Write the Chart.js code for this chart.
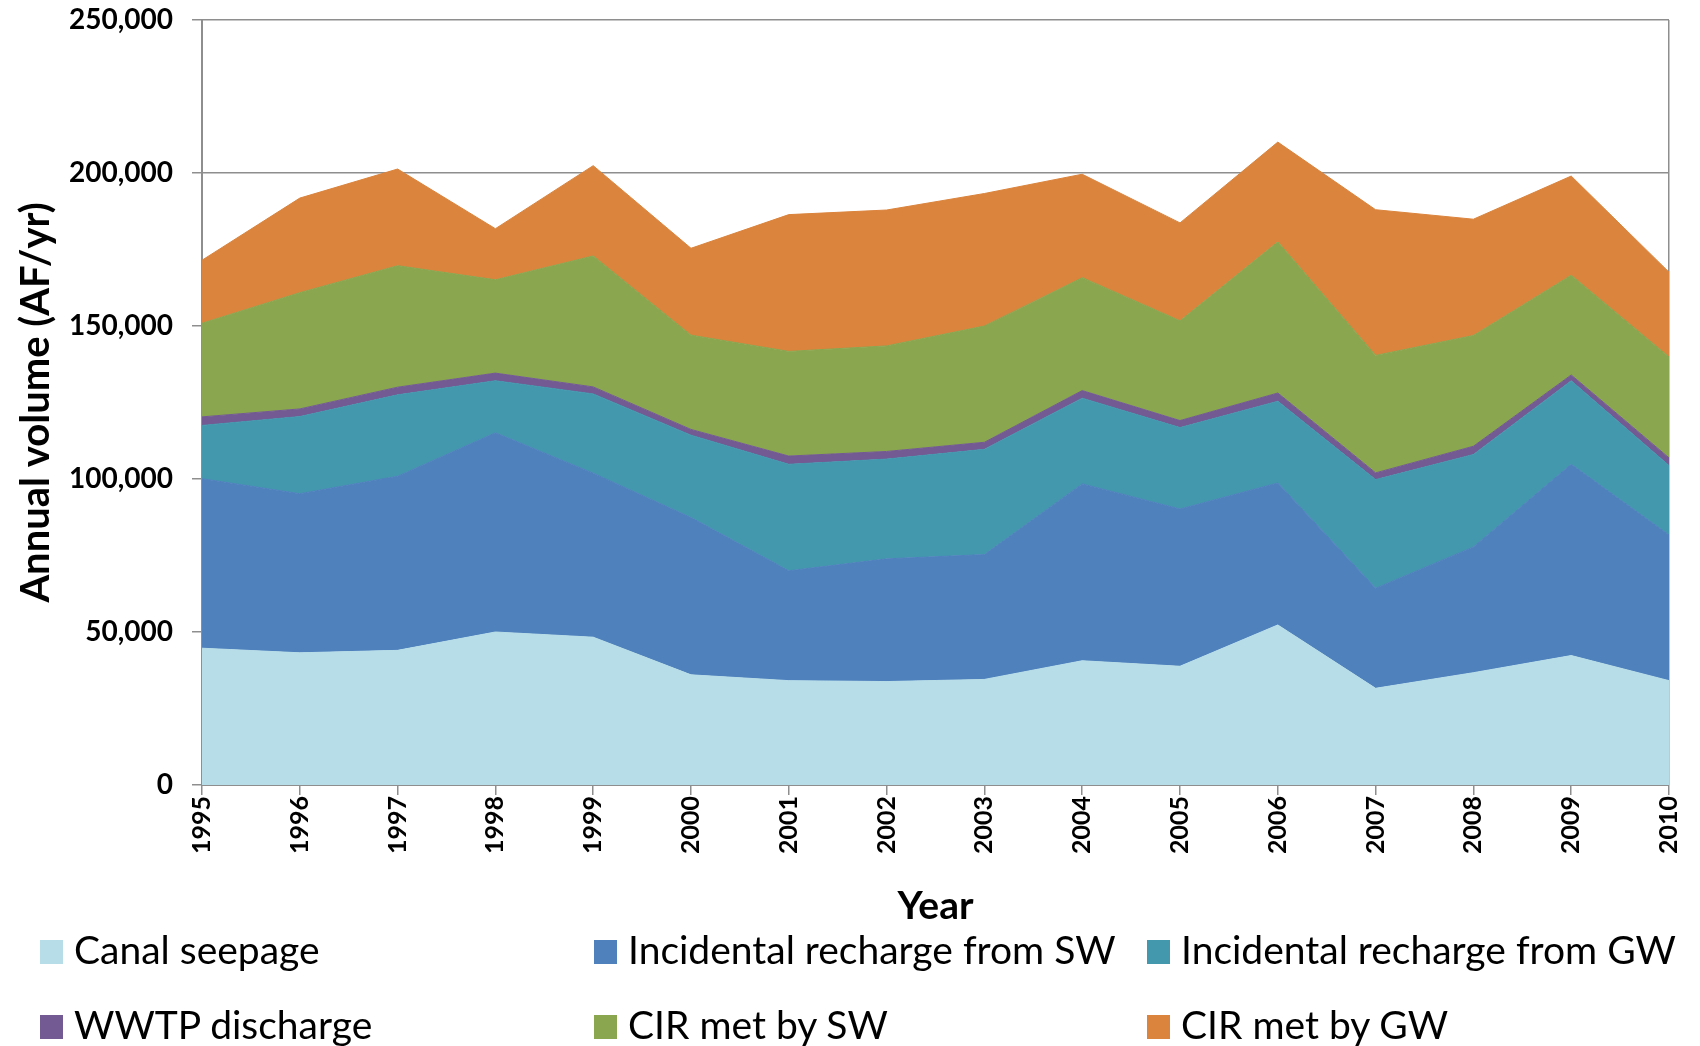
<!DOCTYPE html>
<html>
<head>
<meta charset="utf-8">
<script src="https://cdn.jsdelivr.net/npm/chart.js@4.4.1/dist/chart.umd.min.js"></script>
<style>
    html, body { margin: 0; padding: 0; background: #fff; }
    #wrap { position: relative; width: 1700px; height: 1046px; font-family: Lato, sans-serif; }
    #legend .item { position: absolute; font-size: 39px; color: #000; line-height: 1; white-space: nowrap; }
    #legend .box { position: absolute; width: 23px; height: 24px; }
</style>
</head>
<body>
<div id="wrap">
    <canvas id="areaChart" width="1700" height="1046"></canvas>
    <div id="legend"></div>
</div>
<script>
var years = ["1995", "1996", "1997", "1998", "1999", "2000", "2001", "2002",
    "2003", "2004", "2005", "2006", "2007", "2008", "2009", "2010"];

var canalSeepage = [44700, 43200, 44000, 50000, 48300, 36000, 34100, 33800,
    34500, 40600, 38800, 52300, 31600, 36700, 42300, 34100];
var incidentalSW = [55400, 52000, 56900, 65100, 53600, 51400, 35900, 40100,
    40800, 57800, 51400, 46400, 32700, 41100, 62500, 47600];
var incidentalGW = [17400, 25200, 26600, 17000, 25900, 26900, 34800, 32600,
    34400, 28000, 26600, 26700, 35500, 30200, 27300, 22700];
var wwtpDischarge = [2800, 2500, 2500, 2500, 2300, 1900, 2700, 2500,
    2300, 2500, 2300, 2700, 2200, 2700, 1900, 2500];
var cirSW = [30600, 38000, 39700, 30500, 42800, 30800, 34200, 34500,
    38000, 36900, 32600, 49400, 38400, 36200, 32600, 33000];
var cirGW = [20600, 30900, 31600, 16700, 29500, 28400, 44700, 44400,
    43300, 33800, 32000, 32600, 47600, 38000, 32400, 27700];

var seriesNames = ["Canal seepage", "Incidental recharge from SW", "Incidental recharge from GW",
    "WWTP discharge", "CIR met by SW", "CIR met by GW"];
var seriesData = [canalSeepage, incidentalSW, incidentalGW, wwtpDischarge, cirSW, cirGW];
var seriesColors = ["#B7DDE8", "#4F81BD", "#4398AE", "#735A92", "#8AA64F", "#DB843D"];

var yTicks = [0, 50000, 100000, 150000, 200000, 250000];

var axisGray = "#8E8E8E";

var datasets = seriesData.map(function (d, i) {
    return {
        label: seriesNames[i],
        data: d,
        backgroundColor: seriesColors[i],
        borderColor: seriesColors[i],
        borderWidth: 1,
        pointRadius: 0,
        tension: 0,
        fill: i === 0 ? "origin" : "-1"
    };
});

new Chart(document.getElementById("areaChart").getContext("2d"), {
    type: "line",
    data: { labels: years, datasets: datasets },
    options: {
        responsive: false,
        animation: false,
        devicePixelRatio: 1,
        layout: { padding: { left: 12, right: 26, top: 20, bottom: 116 } },
        plugins: { legend: { display: false }, tooltip: { enabled: false } },
        scales: {
            x: {
                offset: false,
                grid: {
                    color: function (ctx) { return ctx.index === years.length - 1 ? axisGray : "transparent"; },
                    tickColor: axisGray,
                    tickLength: 10,
                    lineWidth: 1.5
                },
                border: { display: true, color: axisGray, width: 2 },
                ticks: {
                    color: "#000",
                    minRotation: 90,
                    maxRotation: 90,
                    padding: 1,
                    font: { family: "Lato", size: 25, weight: "bold" }
                },
                title: {
                    display: true,
                    text: "Year",
                    color: "#000",
                    padding: 0,
                    font: { family: "Lato", size: 39, weight: "bold" }
                },
                afterFit: function (scale) { scale.height = 145; }
            },
            y: {
                stacked: true,
                min: 0,
                max: 250000,
                afterBuildTicks: function (scale) {
                    scale.ticks = yTicks.map(function (v) { return { value: v }; });
                },
                grid: { color: axisGray, tickLength: 10, lineWidth: 1.5 },
                border: { display: true, color: axisGray, width: 2 },
                ticks: {
                    color: "#000",
                    padding: 19,
                    font: { family: "Lato", size: 28, weight: "bold" },
                    callback: function (v) { return v.toLocaleString("en-US"); }
                },
                title: {
                    display: true,
                    text: "Annual volume (AF/yr)",
                    color: "#000",
                    padding: 0,
                    font: { family: "Lato", size: 40, weight: "bold" }
                },
                afterFit: function (scale) {
                    scale.width = 190;
                    scale.paddingTop = 0;
                    scale.paddingBottom = 0;
                }
            }
        }
    }
});

// legend laid out in three columns like the original
var legendCols = [40, 594, 1147];
var legendRows = [952, 1027];
var legend = document.getElementById("legend");
seriesNames.forEach(function (name, i) {
    var cx = legendCols[i % 3];
    var cy = legendRows[Math.floor(i / 3)];
    var box = document.createElement("div");
    box.className = "box";
    box.style.left = cx + "px";
    box.style.top = (cy - 12) + "px";
    box.style.background = seriesColors[i];
    legend.appendChild(box);
    var txt = document.createElement("div");
    txt.className = "item";
    txt.style.left = (cx + 34) + "px";
    txt.style.top = (cy - 22) + "px";
    txt.textContent = name;
    legend.appendChild(txt);
});
</script>
</body>
</html>
